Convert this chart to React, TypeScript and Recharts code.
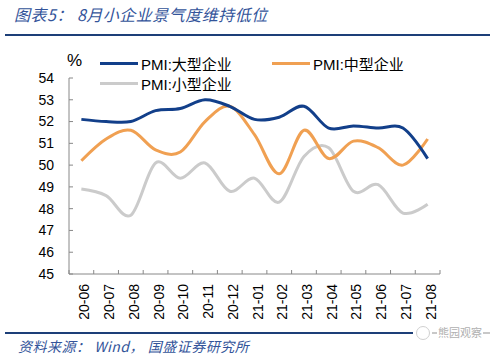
import { LineChart, Line, XAxis, YAxis } from 'recharts'

// 2020-06 .. 2021-08 PMI by enterprise size
const months = ['20-06', '20-07', '20-08', '20-09', '20-10', '20-11', '20-12', '21-01', '21-02', '21-03', '21-04', '21-05', '21-06', '21-07', '21-08']
const large = [52.1, 52.0, 52.0, 52.5, 52.6, 53.0, 52.7, 52.1, 52.2, 52.7, 51.7, 51.8, 51.7, 51.7, 50.3]
const medium = [50.2, 51.2, 51.6, 50.7, 50.6, 52.0, 52.7, 51.4, 49.6, 51.6, 50.3, 51.1, 50.8, 50.0, 51.2]
const small = [48.9, 48.6, 47.7, 50.1, 49.4, 50.1, 48.8, 49.4, 48.3, 50.4, 50.8, 48.8, 49.1, 47.8, 48.2]
const yTicks = [45, 46, 47, 48, 49, 50, 51, 52, 53, 54]

const seriesNames = ['PMI:大型企业', 'PMI:中型企业', 'PMI:小型企业']
const colors = ['#123f8a', '#f0a052', '#cbcbcb']

const data = months.map((m, i) => ({ i, month: m, large: large[i], medium: medium[i], small: small[i] }))
// labels at category centres, tick marks between categories
const xTicks = months.flatMap((_, i) => [i - 0.5, i]).concat([months.length - 0.5])

const FONT = '"Liberation Sans", Arial, "Noto Sans CJK SC", sans-serif'

// Excel-like smooth line (catmull-rom / cardinal, tension 0)
function smoothCurve(context: any) {
  const k = 1 / 6
  let x0 = NaN, x1 = NaN, x2 = NaN, y0 = NaN, y1 = NaN, y2 = NaN
  let pt = 0
  let line = NaN
  const seg = (x: number, y: number) => {
    context.bezierCurveTo(x1 + k * (x2 - x0), y1 + k * (y2 - y0), x2 + k * (x1 - x), y2 + k * (y1 - y), x2, y2)
  }
  return {
    areaStart() { line = 0 },
    areaEnd() { line = NaN },
    lineStart() { x0 = x1 = x2 = y0 = y1 = y2 = NaN; pt = 0 },
    lineEnd() {
      if (pt === 2) context.lineTo(x2, y2)
      else if (pt === 3) seg(x1, y1)
      if (line || (line !== 0 && pt === 1)) context.closePath()
      line = 1 - line
    },
    point(x: number, y: number) {
      x = +x; y = +y
      switch (pt) {
        case 0: pt = 1; line ? context.lineTo(x, y) : context.moveTo(x, y); break
        case 1: pt = 2; x1 = x; y1 = y; break
        case 2: pt = 3; seg(x, y); break
        default: seg(x, y); break
      }
      x0 = x1; x1 = x2; x2 = x
      y0 = y1; y1 = y2; y2 = y
    },
  }
}

const XTick = (props: any) => {
  const { x, y, payload } = props
  const v = payload.value
  if (!Number.isInteger(v)) {
    return <line x1={x} y1={y} x2={x} y2={y - 4} stroke="#888" strokeWidth={1} />
  }
  return (
    <text transform={`translate(${x + 8},${y + 10}) rotate(-90)`} textAnchor="end" fontSize={14} fontFamily={FONT} fill="#000">
      {months[v]}
    </text>
  )
}

const YTick = (props: any) => {
  const { x, y, payload } = props
  return (
    <g>
      <line x1={x} y1={y} x2={x + 4} y2={y} stroke="#888" strokeWidth={1} />
      <text x={x - 15} y={y} dy="0.35em" textAnchor="end" fontSize={14} fontFamily={FONT} fill="#000">
        {payload.value}
      </text>
    </g>
  )
}

function LegendItem({ color, label, left, top }: { color: string; label: string; left: number; top: number }) {
  return (
    <div style={{ position: 'absolute', left, top, display: 'flex', alignItems: 'center', fontFamily: FONT, fontSize: 15, whiteSpace: 'nowrap' }}>
      <div style={{ width: 38, height: 3, background: color, marginRight: 3 }} />
      <span>{label}</span>
    </div>
  )
}

export default function App() {
  return (
    <div style={{ position: 'absolute', left: 0, top: 0, width: 500, height: 359, background: '#fff', overflow: 'hidden' }}>
      <div style={{ position: 'absolute', left: 14, top: 2, fontFamily: '"Noto Sans CJK SC", sans-serif', fontStyle: 'italic', fontSize: 16, letterSpacing: 0.5, color: '#33549a', whiteSpace: 'nowrap' }}>
        图表5： 8月小企业景气度维持低位
      </div>
      <div style={{ position: 'absolute', left: 5, top: 34, width: 485, height: 2, background: '#1d3f78' }} />

      <LineChart width={500} height={359} data={data} margin={{ top: 78, right: 60, bottom: 34, left: 39 }} style={{ position: 'absolute', left: 0, top: 0 }}>
        <XAxis
          dataKey="i"
          type="number"
          domain={[-0.5, months.length - 0.5]}
          ticks={xTicks}
          interval={0}
          tick={<XTick />}
          tickLine={false}
          tickSize={0}
          tickMargin={0}
          height={51}
          axisLine={{ stroke: '#888' }}
        />
        <YAxis
          type="number"
          domain={[45, 54]}
          ticks={yTicks}
          interval={0}
          tick={<YTick />}
          tickLine={false}
          tickSize={0}
          tickMargin={0}
          width={30}
          axisLine={{ stroke: '#888' }}
        />
        <Line dataKey="small" type={smoothCurve as any} stroke={colors[2]} strokeWidth={3} dot={false} isAnimationActive={false} />
        <Line dataKey="medium" type={smoothCurve as any} stroke={colors[1]} strokeWidth={3} dot={false} isAnimationActive={false} />
        <Line dataKey="large" type={smoothCurve as any} stroke={colors[0]} strokeWidth={3} dot={false} isAnimationActive={false} />
      </LineChart>

      <div style={{ position: 'absolute', left: 67, top: 51, fontFamily: FONT, fontSize: 17, color: '#000' }}>%</div>
      <LegendItem color={colors[0]} label={seriesNames[0]} left={100} top={53} />
      <LegendItem color={colors[1]} label={seriesNames[1]} left={272} top={53} />
      <LegendItem color={colors[2]} label={seriesNames[2]} left={100} top={73} />

      <div style={{ position: 'absolute', left: 5, top: 332, width: 408, height: 2, background: '#1d3f78' }} />
      <div style={{ position: 'absolute', left: 416, top: 326, width: 12, height: 12, border: '1px solid #d0d0d0', borderRadius: 7 }} />
      <div style={{ position: 'absolute', left: 432, top: 332, width: 58, height: 2, background: '#c8c8c8' }} />
      <div style={{ position: 'absolute', left: 437, top: 324, padding: '0 1px', background: '#fff', fontFamily: '"Noto Sans CJK SC", sans-serif', fontSize: 11, color: '#b0b0b0', lineHeight: '16px' }}>熊园观察</div>
      <div style={{ position: 'absolute', left: 18, top: 336, fontFamily: '"Noto Sans CJK SC", sans-serif', fontStyle: 'italic', fontSize: 14, letterSpacing: 0.5, color: '#33549a', whiteSpace: 'nowrap' }}>
        资料来源： Wind， 国盛证券研究所
      </div>
    </div>
  )
}
